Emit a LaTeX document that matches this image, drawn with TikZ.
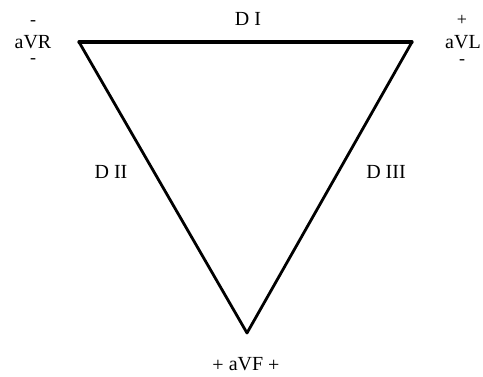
\documentclass[tikz,border=0pt]{standalone}
\usepackage{fontspec}
\setmainfont{Liberation Serif}
\begin{document}
\begin{tikzpicture}[x=1pt,y=-1pt,
    lead/.style={line width=2.8pt,line cap=round,line join=round},
    lbl/.style={inner sep=0pt,font=\fontsize{20}{24}\selectfont},
    sgn/.style={inner sep=0pt,font=\fontsize{18}{20}\selectfont}]
    \useasboundingbox (0,0) rectangle (483,376);

    \coordinate (ra) at (79,42);
    \coordinate (la) at (412,42);
    \coordinate (ll) at (247,333);

    \draw[lead,line width=3.3pt] (ra)--(la);
    \draw[lead] (ra)--(ll)--(la);

    \node[lbl] (d1) at (248,19) {D I};
    \node[lbl] (d2) at (111,172) {D II};
    \node[lbl] (d3) at (386,172) {D III};

    \node[lbl,anchor=base] (avr) at (33,48) {aVR};
    \node[sgn] at (33,23) {-};
    \node[sgn] at (33,61) {-};

    \node[lbl,anchor=base] (avl) at (463,48) {aVL};
    \node[sgn] at (462,20) {+};
    \node[sgn] at (462,62) {-};

    \node[lbl,anchor=base] (avf) at (246,370) {\raisebox{-1.5pt}{+} aVF \raisebox{-1.5pt}{+}};
\end{tikzpicture}
\end{document}
